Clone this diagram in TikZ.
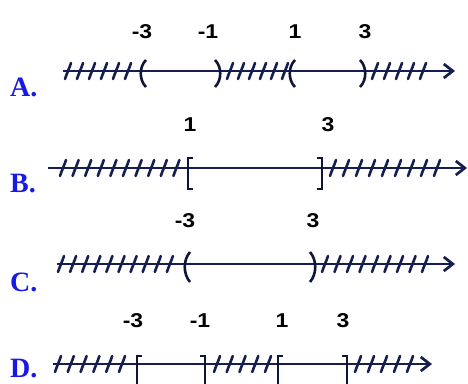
\documentclass[tikz,border=0pt]{standalone}
\usepackage{fontspec}
\usepackage{tikz}
\usetikzlibrary{arrows.meta}
\newfontfamily\numfont[FakeStretch=1.15]{Liberation Sans}
\newfontfamily\optfont{Liberation Serif}
\definecolor{cNavy}{RGB}{22,30,80}
\definecolor{cOpt}{RGB}{25,25,230}
\tikzset{
	numline/.style={draw=cNavy, line width=2.7pt, -{Straight Barb[length=9pt, width=14pt, line width=2.7pt]}},
	hatch/.style  ={draw=cNavy, line width=2.6pt, line cap=round},
	bnd/.style    ={draw=cNavy!70!black, line width=2.6pt},
	numlbl/.style ={anchor=base, inner sep=0pt, font={\numfont\bfseries\fontsize{20}{20}\selectfont}},
	optlbl/.style ={anchor=base west, inner sep=0pt, text=cOpt, font={\optfont\bfseries\fontsize{28}{28}\selectfont}},
}
\begin{document}
\begin{tikzpicture}[x=1pt, y=-1pt]
	\useasboundingbox[fill=white] (0,0) rectangle (468,383);
	% option A
	\node[optlbl] (optA) at (10,96) {A.};
	\coordinate (a0) at (63,71);
	\coordinate (a1) at (455,71);
	\draw[numline] (a0) -- (a1);
	\foreach \x in {68,80,92,104,116,128, 230,241,252,263,274,285, 375,387,399,411,423}
		\draw[hatch, shift={(\x,71)}] (-3,8) .. controls (-1,2) and (1,-2) .. (3,-8);
	\foreach \x in {143,292}
		\draw[bnd, shift={(\x,71)}] (3,-11) .. controls (-4,-4) and (-4,9) .. (3,16);
	\foreach \x in {218,363}
		\draw[bnd, shift={(\x,71)}] (-3,-11) .. controls (4,-4) and (4,9) .. (-3,16);
	\node[numlbl] (aM3) at (142,38) {-3};
	\node[numlbl] (aM1) at (208,38) {-1};
	\node[numlbl] (aP1) at (295,38) {1};
	\node[numlbl] (aP3) at (365,38) {3};
	% option B
	\node[optlbl] (optB) at (10,192) {B.};
	\coordinate (b0) at (48,168);
	\coordinate (b1) at (467,168);
	\draw[numline] (b0) -- (b1);
	\foreach \i in {0,...,9}
		\draw[hatch, shift={(63+12.6*\i,168)}] (-3,8) .. controls (-1,2) and (1,-2) .. (3,-8);
	\foreach \i in {0,...,8}
		\draw[hatch, shift={(333+13*\i,168)}] (-3,8) .. controls (-1,2) and (1,-2) .. (3,-8);
	\draw[bnd, shift={(188,168)}] (5,-10) -- (0,-10) -- (0,21) -- (5,21);
	\draw[bnd, shift={(322,168)}] (-5,-10) -- (0,-10) -- (0,21) -- (-5,21);
	\node[numlbl] (bP1) at (190,131) {1};
	\node[numlbl] (bP3) at (328,131) {3};
	% option C
	\node[optlbl] (optC) at (10,291) {C.};
	\coordinate (c0) at (57,264);
	\coordinate (c1) at (455,264);
	\draw[numline] (c0) -- (c1);
	\foreach \i in {0,...,9}
		\draw[hatch, shift={(61+12.1*\i,264)}] (-3,8) .. controls (-1,2) and (1,-2) .. (3,-8);
	\foreach \i in {0,...,8}
		\draw[hatch, shift={(325+12.5*\i,264)}] (-3,8) .. controls (-1,2) and (1,-2) .. (3,-8);
	\draw[bnd, shift={(187,264)}] (3,-12) .. controls (-4,-4) and (-4,10) .. (3,18);
	\draw[bnd, shift={(313,264)}] (-3,-12) .. controls (4,-4) and (4,10) .. (-3,18);
	\node[numlbl] (cM3) at (185,227) {-3};
	\node[numlbl] (cP3) at (313,227) {3};
	% option D
	\node[optlbl] (optD) at (10,377) {D.};
	\coordinate (d0) at (53,364);
	\coordinate (d1) at (432,364);
	\draw[numline] (d0) -- (d1);
	\foreach \i in {0,...,5}
		\draw[hatch, shift={(58+12.8*\i,364)}] (-3,8) .. controls (-1,2) and (1,-2) .. (3,-8);
	\foreach \i in {0,...,4}
		\draw[hatch, shift={(217+12.75*\i,364)}] (-3,8) .. controls (-1,2) and (1,-2) .. (3,-8);
	\foreach \i in {0,...,4}
		\draw[hatch, shift={(358+13*\i,364)}] (-3,8) .. controls (-1,2) and (1,-2) .. (3,-8);
	\foreach \x in {137,278}
		\draw[bnd, shift={(\x,364)}] (5,-8) -- (0,-8) -- (0,22) -- (5,22);
	\foreach \x in {205,347}
		\draw[bnd, shift={(\x,364)}] (-5,-8) -- (0,-8) -- (0,22) -- (-5,22);
	\node[numlbl] (dM3) at (133,327) {-3};
	\node[numlbl] (dM1) at (200,327) {-1};
	\node[numlbl] (dP1) at (282,327) {1};
	\node[numlbl] (dP3) at (343,327) {3};
\end{tikzpicture}
\end{document}
